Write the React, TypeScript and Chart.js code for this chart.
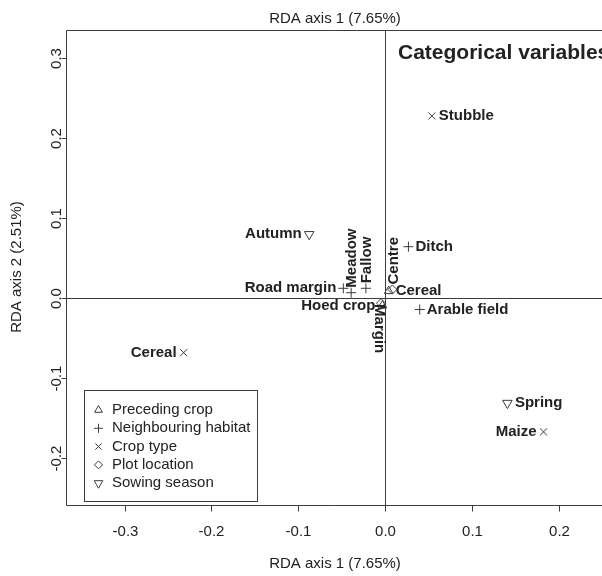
import React, { useEffect, useRef } from 'react';
import { Chart, registerables } from 'chart.js';
import { drawPoint } from 'chart.js/helpers';

Chart.register(...registerables);

// ---------- data ----------
const xTicks = [-0.3, -0.2, -0.1, 0.0, 0.1, 0.2];
const yTicks = [-0.2, -0.1, 0.0, 0.1, 0.2, 0.3];

const precedingNames = ['Cereal', 'Hoed crop'];
const precedingX = [0.0042, -0.003];
const precedingY = [0.009, -0.009];

const habitatNames = ['Road margin', 'Meadow', 'Fallow', 'Ditch', 'Arable field'];
const habitatX = [-0.048, -0.039, -0.022, 0.027, 0.040];
const habitatY = [0.0125, 0.007, 0.0125, 0.0645, -0.014];

const cropNames = ['Stubble', 'Cereal', 'Maize'];
const cropX = [0.054, -0.232, 0.1826];
const cropY = [0.228, -0.068, -0.167];

const locationNames = ['Centre', 'Margin'];
const locationX = [0.0085, -0.0046];
const locationY = [0.011, -0.006];

const seasonNames = ['Autumn', 'Spring'];
const seasonX = [-0.0873, 0.141];
const seasonY = [0.08, -0.131];

const legendLabels = ['Preceding crop', 'Neighbouring habitat', 'Crop type', 'Plot location', 'Sowing season'];

const xTitle = 'RDA axis 1 (7.65%)';
const yTitle = 'RDA axis 2 (2.51%)';
const panelTitle = 'Categorical variables';

// ---------- styles ----------
const FONT = '"Liberation Sans", Arial, Helvetica, sans-serif';
const INK = '#222222';
const LINE = '#3c3c3c';

type Side = 'left' | 'right' | 'up' | 'down';

const groups = [
  { names: precedingNames, xs: precedingX, ys: precedingY, style: 'triangle', rotation: 0, radius: 5,
    sides: ['right', 'left'] as Side[] },
  { names: habitatNames, xs: habitatX, ys: habitatY, style: 'cross', rotation: 0, radius: 5,
    sides: ['left', 'up', 'up', 'right', 'right'] as Side[] },
  { names: cropNames, xs: cropX, ys: cropY, style: 'crossRot', rotation: 0, radius: 5,
    sides: ['right', 'left', 'left'] as Side[] },
  { names: locationNames, xs: locationX, ys: locationY, style: 'rectRot', rotation: 0, radius: 4.5,
    sides: ['up', 'down'] as Side[] },
  { names: seasonNames, xs: seasonX, ys: seasonY, style: 'triangle', rotation: 180, radius: 5.5,
    sides: ['left', 'right'] as Side[] },
];

const fmt = (v: number) => (Math.abs(v) < 1e-9 ? '0.0' : v.toFixed(1));

const overlay = {
  id: 'overlay',
  beforeDatasetsDraw(chart: any) {
    const { ctx, chartArea: a, scales } = chart;
    const sx = scales.x;
    const sy = scales.y;
    ctx.save();
    ctx.strokeStyle = LINE;
    ctx.lineWidth = 1;
    const L = Math.round(a.left) + 0.5;
    const T = Math.round(a.top) + 0.5;
    const B = Math.round(a.bottom) + 0.5;
    const R = a.right + 2;
    // box (left, top, bottom)
    ctx.beginPath();
    ctx.moveTo(R, T);
    ctx.lineTo(L, T);
    ctx.lineTo(L, B);
    ctx.lineTo(R, B);
    ctx.stroke();
    // zero lines
    const x0 = Math.round(sx.getPixelForValue(0)) + 0.5;
    const y0 = Math.round(sy.getPixelForValue(0)) + 0.5;
    ctx.beginPath();
    ctx.moveTo(L, y0);
    ctx.lineTo(R, y0);
    ctx.moveTo(x0, T);
    ctx.lineTo(x0, B);
    ctx.stroke();
    // x ticks
    ctx.fillStyle = INK;
    ctx.font = `15px ${FONT}`;
    ctx.textAlign = 'center';
    ctx.textBaseline = 'middle';
    xTicks.forEach((v) => {
      const px = Math.round(sx.getPixelForValue(v)) + 0.5;
      ctx.beginPath();
      ctx.moveTo(px, B);
      ctx.lineTo(px, B + 6);
      ctx.stroke();
      ctx.fillText(fmt(v), px, 532);
    });
    // y ticks
    yTicks.forEach((v) => {
      const py = Math.round(sy.getPixelForValue(v)) + 0.5;
      ctx.beginPath();
      ctx.moveTo(L, py);
      ctx.lineTo(L - 5, py);
      ctx.stroke();
      ctx.save();
      ctx.translate(57, py);
      ctx.rotate(-Math.PI / 2);
      ctx.fillText(fmt(v), 0, 0);
      ctx.restore();
    });
    // titles
    ctx.textBaseline = 'alphabetic';
    ctx.fillText(xTitle, 335, 23);
    ctx.fillText(xTitle, 335, 568);
    ctx.save();
    ctx.translate(21, 267);
    ctx.rotate(-Math.PI / 2);
    ctx.fillText(yTitle, 0, 0);
    ctx.restore();
    ctx.restore();
  },
  afterDatasetsDraw(chart: any) {
    const { ctx, scales } = chart;
    const sx = scales.x;
    const sy = scales.y;
    ctx.save();
    ctx.fillStyle = INK;
    ctx.font = `bold 15px ${FONT}`;
    ctx.textBaseline = 'middle';
    groups.forEach((g) => {
      g.names.forEach((name, i) => {
        const px = sx.getPixelForValue(g.xs[i]);
        const py = sy.getPixelForValue(g.ys[i]);
        const side = g.sides[i];
        const off = g.radius + 2;
        if (side === 'right') {
          ctx.textAlign = 'left';
          ctx.fillText(name, px + off, py);
        } else if (side === 'left') {
          ctx.textAlign = 'right';
          ctx.fillText(name, px - off, py);
        } else if (side === 'up') {
          ctx.save();
          ctx.translate(px + 1, py - 5);
          ctx.rotate(-Math.PI / 2);
          ctx.textAlign = 'left';
          ctx.fillText(name, 0, 0);
          ctx.restore();
        } else {
          ctx.save();
          ctx.translate(px - 2, py + 1);
          ctx.rotate(Math.PI / 2);
          ctx.textAlign = 'left';
          ctx.fillText(name, 0, 0);
          ctx.restore();
        }
      });
    });
    // panel title
    ctx.font = `bold 21px ${FONT}`;
    ctx.textAlign = 'left';
    ctx.textBaseline = 'alphabetic';
    ctx.fillText(panelTitle, 398, 59);
    // legend
    ctx.strokeStyle = LINE;
    ctx.lineWidth = 1;
    ctx.strokeRect(84.5, 390.5, 173, 111);
    ctx.font = `15px ${FONT}`;
    ctx.textBaseline = 'middle';
    legendLabels.forEach((lab, i) => {
      const ly = 410 + i * 18.3;
      const g = groups[i];
      ctx.save();
      ctx.strokeStyle = LINE;
      ctx.fillStyle = 'rgba(0,0,0,0)';
      ctx.lineWidth = 1;
      drawPoint(ctx, { pointStyle: g.style as any, rotation: g.rotation, radius: g.radius - 0.5, borderWidth: 1 }, 98.5, ly);
      ctx.restore();
      ctx.fillStyle = INK;
      ctx.fillText(lab, 112, ly);
    });
    ctx.restore();
  },
};

export default function App() {
  const ref = useRef<HTMLCanvasElement | null>(null);
  useEffect(() => {
    if (!ref.current) return;
    const datasets = groups.map((g) => ({
      label: g.style,
      data: g.xs.map((x, i) => ({ x, y: g.ys[i] })),
      pointStyle: g.style as any,
      rotation: g.rotation,
      pointRadius: g.radius,
      pointHoverRadius: g.radius,
      borderColor: LINE,
      backgroundColor: 'rgba(0,0,0,0)',
      borderWidth: 1,
      showLine: false,
      clip: false as any,
    }));
    const chart = new Chart(ref.current, {
      type: 'scatter',
      data: { datasets },
      options: {
        responsive: false,
        animation: false,
        devicePixelRatio: 1,
        layout: { autoPadding: false, padding: { left: 66, right: 0, top: 30, bottom: 71 } },
        plugins: { legend: { display: false }, tooltip: { enabled: false }, title: { display: false } },
        scales: {
          x: { type: 'linear', min: -0.3675, max: 0.25, display: false },
          y: { type: 'linear', min: -0.2584, max: 0.3354, display: false },
        },
      },
      plugins: [overlay],
    });
    return () => chart.destroy();
  }, []);
  return (
    <div style={{ position: 'absolute', left: 0, top: 0, width: 602, height: 576, background: '#fff' }}>
      <canvas ref={ref} width={602} height={576} style={{ display: 'block' }} />
    </div>
  );
}
